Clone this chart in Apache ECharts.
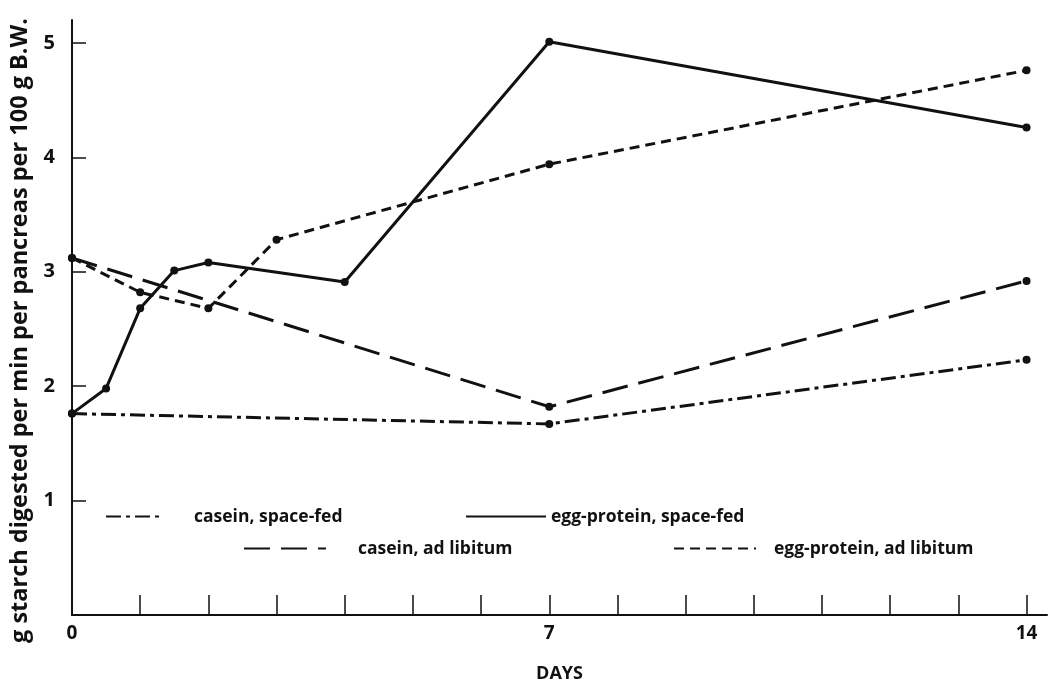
<!DOCTYPE html>
<html>
<head>
<meta charset="utf-8">
<script src="https://cdn.jsdelivr.net/npm/echarts@6/dist/echarts.min.js"></script>
<style>
html,body{margin:0;padding:0;background:#fff;}
#c{width:1059px;height:686px;}
</style>
</head>
<body>
<div id="c"></div>
<script>
// ---- data ----
const caseinSpaceDays = [0, 7, 14];
const caseinSpaceVals = [1.76, 1.67, 2.23];
const eggSpaceDays = [0, 0.5, 1, 1.5, 2, 4, 7, 14];
const eggSpaceVals = [1.76, 1.98, 2.68, 3.01, 3.08, 2.91, 5.01, 4.26];
const caseinAdlibDays = [0, 7, 14];
const caseinAdlibVals = [3.12, 1.82, 2.92];
const eggAdlibDays = [0, 1, 2, 3, 7, 14];
const eggAdlibVals = [3.12, 2.82, 2.68, 3.28, 3.94, 4.76];
const seriesNames = ['casein, space-fed', 'egg-protein, space-fed', 'casein, ad libitum', 'egg-protein, ad libitum'];
const xTickValues = [1,2,3,4,5,6,7,8,9,10,11,12,13,14];
const xLabelValues = [0, 7, 14];
const yTickValues = [1, 2, 3, 4, 5];
const xName = 'DAYS';
const yName = 'g starch digested per min per pancreas per 100 g B.W.';

const pairs = (xs, ys) => xs.map((x, i) => [x, ys[i]]);
const FONT = '"Open Sans", "DejaVu Sans", sans-serif';
const ink = '#111';

function lineSeries(name, xs, ys, dash) {
  return {
    name: name,
    type: 'line',
    data: pairs(xs, ys),
    symbol: 'circle',
    symbolSize: 8,
    itemStyle: { color: ink },
    lineStyle: { color: ink, width: 3, type: dash },
    animation: false
  };
}

function legendAt(name, left, top, width, textGap) {
  return {
    data: [name],
    left: left,
    top: top,
    padding: 0,
    itemWidth: width,
    itemHeight: 24,
    selectedMode: false,
    itemStyle: { opacity: 0 },
    textStyle: { fontFamily: FONT, fontWeight: 'bold', fontSize: 17.5, color: ink, padding: [0, 0, 0, textGap] }
  };
}

const chart = echarts.init(document.getElementById('c'));
chart.setOption({
  backgroundColor: '#fff',
  animation: false,
  grid: { left: 72, right: 12, top: 20, bottom: 71, outerBoundsMode: 'none' },
  legend: [
    legendAt(seriesNames[0], 105, 507, 56, 27),
    legendAt(seriesNames[1], 465, 507, 80, 0),
    legendAt(seriesNames[2], 243, 539, 82, 27),
    legendAt(seriesNames[3], 673, 539, 82, 13)
  ],
  xAxis: {
    type: 'value',
    min: 0,
    max: 14.3,
    name: xName,
    nameLocation: 'middle',
    nameGap: 50,
    nameTextStyle: { fontFamily: FONT, fontWeight: 'bold', fontSize: 18, color: ink },
    axisLine: { show: true, onZero: false, lineStyle: { color: ink, width: 2 } },
    axisTick: { show: true, inside: true, length: 20, customValues: xTickValues, lineStyle: { color: ink, width: 1.5 } },
    axisLabel: { customValues: xLabelValues, margin: 9, fontFamily: FONT, fontWeight: 'bold', fontSize: 19, color: ink },
    splitLine: { show: false }
  },
  yAxis: {
    type: 'value',
    min: 0,
    max: 5.2,
    name: yName,
    nameLocation: 'middle',
    nameGap: 36,
    nameTextStyle: { fontFamily: FONT, fontWeight: 'bold', fontSize: 23.5, color: ink, padding: [0, 26, 0, 0] },
    axisLine: { show: true, lineStyle: { color: ink, width: 2 } },
    axisTick: { show: true, inside: true, length: 14, customValues: yTickValues, lineStyle: { color: ink, width: 1.5 } },
    axisLabel: { customValues: yTickValues, margin: 17, fontFamily: FONT, fontWeight: 'bold', fontSize: 20, color: ink },
    splitLine: { show: false }
  },
  series: [
    lineSeries(seriesNames[0], caseinSpaceDays, caseinSpaceVals, [15, 5, 4, 5]),
    lineSeries(seriesNames[1], eggSpaceDays, eggSpaceVals, 'solid'),
    lineSeries(seriesNames[2], caseinAdlibDays, caseinAdlibVals, [26, 11]),
    lineSeries(seriesNames[3], eggAdlibDays, eggAdlibVals, [10, 6])
  ]
});
</script>
</body>
</html>
